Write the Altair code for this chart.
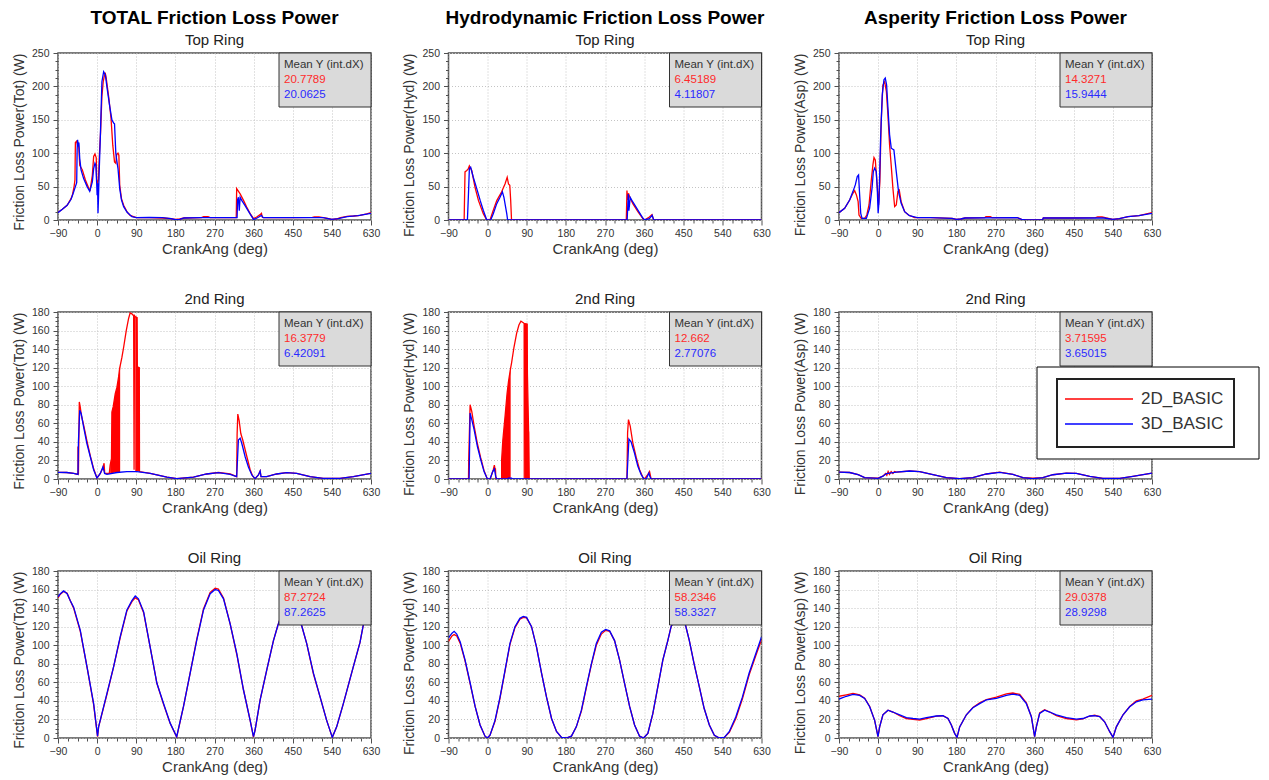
import altair as alt
import pandas as pd

SERIES = ["2D_BASIC", "3D_BASIC"]
COLORS = ["#ff0000", "#0000ff"]
COL_TITLES = ["TOTAL Friction Loss Power", "Hydrodynamic Friction Loss Power", "Asperity Friction Loss Power"]
ROW_TITLES = ["Top Ring", "2nd Ring", "Oil Ring"]
Y_TITLES = ["Friction Loss Power(Tot) (W)", "Friction Loss Power(Hyd) (W)", "Friction Loss Power(Asp) (W)"]
X_TITLE = "CrankAng (deg)"
X_TICKS = [-90 + 22.5 * k for k in range(33)]
STATS_HEADER = "Mean Y (int.dX)"

# ---- Top ring ----
TOT_TOP_2D = [(-90, 11.5), (-80, 16), (-69, 22), (-60, 32), (-57, 37), (-53, 50), (-51, 60), (-50, 116), (-47, 118),
              (-45, 112), (-43, 114), (-42, 107), (-40, 82), (-34, 75), (-27, 60), (-19, 47), (-16, 45), (-11, 67),
              (-8, 95), (-5, 99), (-2, 93), (-1, 60), (1, 55), (3, 60), (5, 95), (8, 132), (11, 185), (14, 207),
              (17, 217), (19, 219), (21, 212), (27, 182), (32, 152), (36, 112), (40, 87), (43, 85), (45, 98),
              (48, 100), (50, 97), (52, 52), (56, 32), (61, 22), (69, 12), (76, 7), (90, 3.5), (120, 3.5), (150, 3),
              (170, 2), (180, 1), (190, 1.5), (200, 3), (240, 3.5), (245, 5), (255, 5), (260, 3.5), (320, 3.5),
              (321, 47), (324, 44), (329, 39), (337, 29), (344, 19.5), (352, 9.5), (360, 2), (367, 4.5), (375, 8),
              (378, 10), (380, 4), (383, 3.5), (450, 3.5), (495, 4), (500, 4.5), (510, 4.5), (520, 3.5), (530, 2.5),
              (540, 1), (550, 1.5), (560, 3.5), (575, 5.5), (590, 6), (605, 7), (620, 9), (630, 11)]
TOT_TOP_3D = [(-90, 11), (-80, 16), (-69, 22), (-60, 31), (-55, 40), (-50, 50), (-47, 56), (-46, 105), (-45, 120),
              (-43, 110), (-42, 116), (-40, 92), (-37, 75), (-31, 62), (-23, 50), (-17, 43), (-11, 57), (-8, 77),
              (-5, 85), (-3, 82), (-1, 55), (0, 37), (1, 55), (2, 10), (3, 30), (4.5, 67), (7.5, 127), (11, 207),
              (15, 222), (19, 217), (23, 197), (29, 170), (34, 150), (38, 145), (40, 144), (43, 100), (45, 90),
              (48, 77), (52, 47), (56, 30), (61, 20), (69, 11.5), (80, 5), (90, 3.5), (120, 4), (150, 3.5), (170, 2),
              (180, 0.5), (190, 1), (200, 3), (240, 3.5), (322, 3.5), (323, 30), (325, 34), (327, 14), (329, 34),
              (333, 29), (340, 22), (350, 11), (360, 0.5), (368, 3), (375, 5.5), (378, 7), (382, 3.5), (450, 3.5),
              (520, 3.5), (540, 1), (555, 2), (575, 5), (600, 6.5), (630, 10)]
HYD_TOP_2D = [(-90, 0), (-54, 0), (-52, 72), (-48, 74), (-45, 76), (-42, 81), (-36.5, 74), (-29, 49), (-21, 29),
              (-10, 9.5), (-2, 0), (5.5, 0), (13, 14.5), (21, 29), (32, 42), (40, 54), (45, 64), (48, 54), (51, 52),
              (53, 30), (55, 0), (319, 0), (320.5, 44), (322, 30), (324, 40), (327, 34), (334, 24.5), (346, 12),
              (357, 2), (361, 0), (372, 4.5), (378, 8), (382, 0), (630, 0)]
HYD_TOP_3D = [(-90, 0), (-46.5, 0), (-44, 40), (-42, 77), (-39, 79), (-33, 64), (-25, 47), (-17, 29), (-10, 14.5),
              (-2, 0), (7, 0), (13, 9.5), (21, 24.5), (28.5, 34), (34, 42), (37.5, 34), (44, 9.5), (46, 0), (321, 0),
              (323.5, 39), (325, 14), (328, 34), (334, 27), (346, 14.5), (357, 3), (361, 0), (372, 2), (378.5, 7),
              (382, 0), (630, 0)]
ASP_TOP_2D = [(-90, 11), (-77, 17.5), (-65.5, 30), (-58, 40), (-54, 44), (-50, 37.5), (-46, 27.5), (-44, 7.5),
              (-39, 2.5), (-31, 2.5), (-26, 7.5), (-21, 22.5), (-16, 57.5), (-12, 82.5), (-9.5, 93.5), (-6.5, 90),
              (-4, 67.5), (-2, 50), (1, 22.5), (4, 57.5), (7, 147), (11, 202), (15, 207), (19, 192), (22.6, 157),
              (26.4, 112), (30, 82.5), (34, 47.5), (38, 20), (41.7, 22.5), (45.5, 42.5), (48.6, 45), (53, 27.5),
              (61, 12.5), (70, 7.5), (84, 3.5), (120, 3.5), (170, 2.5), (180, 1), (190, 1.5), (200, 3), (245, 3.5),
              (248, 5), (258, 5), (262, 3.5), (320, 3.5), (330, 1), (340, 0), (378, 0), (380, 3), (450, 3),
              (500, 3.5), (505, 4.5), (515, 4.5), (525, 3), (540, 1), (555, 2), (575, 5), (600, 6.5), (630, 11)]
ASP_TOP_3D = [(-90, 11), (-77, 17.5), (-65.5, 30), (-58, 42.5), (-52.5, 52.5), (-48, 65), (-45, 67.5), (-42.5, 37.5),
              (-40, 10), (-37, 2.5), (-27, 2.5), (-19.6, 17.5), (-14, 47.5), (-11, 72.5), (-8, 77.5), (-4.2, 72.5),
              (-2, 47.5), (0, 10), (2, 27.5), (5.7, 122.5), (9.5, 187.5), (13.4, 210), (16.4, 212.5), (19.5, 202.5),
              (22.6, 167.5), (26.4, 127.5), (30.2, 107.5), (36.3, 105), (41.7, 72.5), (47, 42.5), (53, 25),
              (61, 12.5), (72, 6.5), (90, 3.5), (120, 3.5), (170, 2.5), (180, 1), (190, 1.5), (200, 3), (320, 3.5),
              (330, 1), (340, 0), (378, 0), (380, 3), (450, 3), (520, 3), (540, 1), (555, 2), (575, 5), (600, 6.5),
              (630, 10)]

# ---- 2nd ring ----
TOT_2ND_2D = [(-90, 7.2), (-70, 7), (-54, 6), (-44, 5), (-44, 35), (-43, 5), (-41, 83), (-39, 78), (-36, 68),
              (-31, 58), (-23, 40), (-15.7, 25), (-8, 11), (-0.4, 1), (7.3, 6), (13.4, 12), (16, 17), (17.5, 6),
              (22.6, 6), (28, 6), (30, 15), (33, 22), (34, 72), (37, 78), (41.7, 92), (45.6, 99), (49.4, 110),
              (51.7, 119), (57, 131), (61, 142), (67, 160), (72.4, 173), (76, 179), (80, 178), (84, 176), (85, 10),
              (86, 176), (87.7, 175), (92, 174), (92.5, 121), (97, 120), (97.5, 8), (122, 6), (160.5, 2), (183, 0.4),
              (221.7, 2), (252, 5.4), (279, 7), (306, 5.5), (321, 2.5), (322, 48), (323.6, 70), (326.7, 63),
              (330.5, 49), (335, 42), (344.5, 24), (352, 10), (358, 3), (363.4, 0.4), (371, 4.3), (375, 8.6),
              (377, 2.5), (390, 2.5), (413, 5.4), (436, 6.8), (459, 6), (489.8, 2.5), (520, 0.7), (558.8, 0.7),
              (589.4, 2.5), (630, 6)]
TOT_2ND_3D = [(-90, 7.2), (-70, 7), (-54, 6), (-44, 5), (-43, 40), (-40, 74), (-36.4, 70), (-31, 56), (-23.4, 38),
              (-15.7, 24), (-8, 10), (-0.4, 1), (7.3, 6), (13.4, 13), (17.2, 6), (22.6, 5), (45.6, 7), (68.5, 8),
              (91.5, 8), (122, 6), (160.5, 2), (183, 0.4), (221.7, 2), (252, 5.4), (279, 6.8), (306, 5), (321, 2.5),
              (325, 42), (329, 44), (333, 38), (340.5, 24), (348, 13), (355.8, 4.3), (363.4, 0.4), (371, 4.3),
              (375, 8.6), (377, 2.5), (390, 2.5), (413, 5.4), (436, 6.8), (459, 6), (489.8, 2.5), (520, 0.7),
              (558.8, 0.7), (589.4, 2.5), (630, 6)]
TOT_2ND_BAND = [(30, 6, 15), (33, 6, 22), (34, 6, 72), (37, 6.5, 78), (41.7, 7, 92), (45.6, 7, 99), (49.4, 7.5, 110),
                (51.7, 7.5, 119), (53, 7.5, 122), None, (87.7, 8, 175), (92, 8, 174), (92.5, 8, 121), (97, 8, 120)]
HYD_2ND_2D = [(-90, 0), (-44, 0), (-43.5, 21), (-40.3, 80), (-36.5, 73), (-31, 57), (-23.5, 38), (-16, 23),
              (-8.2, 9), (-0.6, 0), (6, 0), (13, 10), (15.5, 15), (17, 11), (18, 11), (19, 0), (32.3, 0), (32.3, 21),
              (35, 42), (40, 67), (44.7, 92), (48, 105), (52, 117), (55, 125), (60.6, 142), (66.7, 157), (72, 166),
              (76.6, 170), (82, 168.5), (84, 167.5), (84.3, 0), (84.8, 167.5), (85.8, 167.5), (91, 167), (91.5, 114),
              (94, 57), (95.7, 0), (320.5, 0), (321, 20), (322, 50), (324, 64), (328, 57), (334, 39), (342, 23),
              (349.6, 10), (357, 2), (361, 0), (368.7, 5), (372.5, 8), (376, 0), (630, 0)]
HYD_2ND_3D = [(-90, 0), (-42.6, 0), (-40.3, 71), (-36.5, 64), (-31, 53), (-23.5, 35), (-16, 21), (-8.2, 8),
              (-0.6, 0), (5.5, 0), (11.7, 8), (15.5, 11), (18.5, 3), (20.8, 0), (46, 0), (48, 1), (55, 1), (57, 0),
              (320.5, 0), (325, 43), (330, 40), (337.8, 28), (345.4, 14), (353, 5), (359.4, 0), (364.8, 0),
              (370.9, 6.4), (373, 3), (376, 0), (630, 0)]
HYD_2ND_BAND = [(32.3, 0, 21), (35, 0, 42), (40, 0, 67), (44.7, 0, 92), (48, 0, 105), (52, 0, 117), (53, 0, 120),
                None, (85.8, 0, 167.5), (91, 0, 167), (91.5, 0, 114), (94, 0, 57), (95.7, 0, 50)]
ASP_2ND_2D = [(-90, 7.5), (-65.5, 7), (-46, 4.6), (-31, 1.4), (0, 1), (11, 3), (17, 6), (20, 4), (23, 8), (26, 5),
              (30, 8), (34, 6), (38, 8), (42, 7.5), (72.6, 8.6), (95.6, 7.9), (126, 4.6), (157, 1.4), (187.6, 0.4),
              (218, 1.4), (249, 5.4), (279.6, 7.5), (310, 5), (333, 1.4), (356, 1), (379, 1.4), (402, 4.6),
              (433, 6.4), (456, 6), (486.7, 2.9), (517, 0.7), (555.7, 0.7), (586, 2.9), (630, 6.4)]
ASP_2ND_3D = [(-90, 7.5), (-65.5, 7), (-46, 4.6), (-31, 1.4), (0, 0.7), (11, 3), (19, 5.7), (42, 7.5), (72.6, 8.6),
              (95.6, 7.9), (126, 4.6), (157, 1.4), (187.6, 0.4), (218, 1.4), (249, 5.4), (279.6, 7.2), (310, 5),
              (333, 1.4), (356, 0.4), (379, 1.4), (402, 4.6), (433, 6.4), (456, 6), (486.7, 2.9), (517, 0.7),
              (555.7, 0.7), (586, 2.9), (630, 6.4)]

# ---- Oil ring ----
TOT_OIL_2D = [(-90, 151), (-84.6, 155), (-77, 158), (-69, 156), (-61.7, 148), (-54, 140), (-38.7, 115), (-23.4, 77),
              (-8, 36), (1, 1.5), (3.4, 12), (22.6, 47), (38, 77), (53, 108), (68.5, 137), (80, 147), (87.7, 151),
              (95, 149), (107, 135), (122, 98), (137.5, 59), (153, 36), (168, 16), (183, 1), (198.7, 34), (214, 70),
              (229, 106), (244.7, 139), (260, 157), (271.5, 161.5), (279, 160.5), (290.7, 151), (306, 123),
              (321.3, 90), (336.6, 52), (352, 19), (359.6, 1), (363.4, 8.6), (375, 41), (390, 73), (405.6, 105),
              (415.5, 121), (428, 138), (440, 147), (450, 145), (460, 135), (470.6, 121), (482, 102), (497.6, 69),
              (513, 44), (528, 19), (541, 0.7), (551, 12), (566.4, 37), (589.4, 77), (604.7, 103), (612, 121),
              (630, 148)]
TOT_OIL_3D = [(-90, 152), (-84.6, 155.6), (-77, 158.5), (-69, 155.6), (-61.7, 148), (-54, 141), (-38.7, 116),
              (-23.4, 77), (-8, 37), (1, 2), (3.4, 12), (22.6, 48), (38, 77), (53, 109), (68.5, 138), (80, 148),
              (87.7, 153), (95, 150), (107, 136), (122, 98), (137.5, 59), (153, 37), (168, 16), (183, 1.4),
              (198.7, 34), (214, 70), (229, 105), (244.7, 138), (260, 155.6), (271.5, 160), (279, 159),
              (290.7, 150), (306, 123), (321.3, 91), (336.6, 52), (352, 19), (359.6, 1.4), (363.4, 8.6), (375, 41),
              (390, 73), (405.6, 105), (415.5, 121), (428, 138), (440, 147), (450, 145), (460, 135), (470.6, 121),
              (482, 102), (497.6, 70), (513, 44), (528, 19), (541, 0.7), (551, 12), (566.4, 37), (589.4, 77),
              (604.7, 103), (612, 121), (630, 148)]
HYD_OIL_2D = [(-90, 104), (-82, 110), (-77, 111.5), (-71, 110), (-63, 102), (-51.8, 83), (-40, 58), (-28.8, 34),
              (-17.4, 14), (-6, 2), (-0.6, 0), (5.5, 3), (17, 18), (28.5, 43), (40, 72), (51.4, 101), (62.9, 119),
              (74.3, 128), (82, 130), (89.6, 129.5), (101, 120), (112.5, 98), (124, 70), (135.5, 44), (147, 21),
              (158.4, 7), (170, 0.7), (181, 0), (192.8, 2), (204, 12), (215.7, 29), (227, 54), (238.7, 79),
              (250, 100), (261.6, 112), (271.5, 116), (280.7, 115), (292, 105), (303.6, 84), (315, 59), (326.6, 34),
              (338, 14), (349.5, 2), (358.7, 0), (368.6, 5), (380, 26), (391.5, 55), (403, 84), (414.5, 105),
              (422, 120), (435, 132), (445, 130), (455, 122), (464, 105), (475, 80), (487, 55), (498, 32), (510, 14),
              (521.5, 3), (533, 0), (544.5, 0.7), (556, 6), (571, 21), (586, 42), (601.6, 68), (617, 89), (630, 106)]
HYD_OIL_3D = [(-90, 108), (-82, 113), (-77, 115), (-71, 112), (-63, 103.6), (-51.8, 84), (-40, 59), (-28.8, 34),
              (-17.4, 14), (-6, 2), (-0.6, 0), (5.5, 3), (17, 19), (28.5, 44), (40, 73), (51.4, 102), (62.9, 120),
              (74.3, 129), (82, 131), (89.6, 130), (101, 120), (112.5, 98), (124, 70), (135.5, 44), (147, 21),
              (158.4, 7), (170, 0.7), (181, 0), (192.8, 2), (204, 12), (215.7, 30), (227, 55), (238.7, 80),
              (250, 102), (261.6, 114), (271.5, 117), (280.7, 115.5), (292, 105), (303.6, 84), (315, 59),
              (326.6, 34), (338, 14), (349.5, 2), (358.7, 0), (368.6, 5), (380, 26.5), (391.5, 55), (403, 84),
              (414.5, 105), (422, 120), (435, 132), (445, 130), (455, 122), (464, 105), (475, 80), (487, 55),
              (498, 32), (510, 14), (521.5, 3), (533, 0), (544.5, 0.7), (556, 7), (571, 23), (586, 44),
              (601.6, 70), (617, 91), (630, 109)]
ASP_OIL_2D = [(-90, 45), (-73, 46.5), (-57.8, 48), (-42.5, 46.5), (-31, 43), (-19.4, 34), (-8, 19), (-0.3, 1.4),
              (3.5, 12), (11, 25), (22.7, 30), (34, 28), (49.6, 24), (65, 21), (80.3, 20), (95.6, 19.4), (111, 21),
              (134, 23.5), (149, 24), (160.7, 21), (168.4, 14), (176, 5), (181.5, 0.7), (187.6, 12), (203, 25),
              (218, 33), (233.6, 38), (249, 41.5), (272, 44), (295, 47.5), (310, 48.5), (325.6, 47), (341, 38),
              (352.5, 23), (360, 1.4), (364, 12), (371.6, 27), (383, 30.5), (394.7, 28), (410, 24), (433, 21),
              (456, 19.5), (471, 20.5), (486.7, 23.7), (498, 24.5), (509.7, 23), (521, 17.5), (532.7, 6.8),
              (540.4, 0.7), (548, 12), (563.4, 25), (578.7, 34), (594, 40), (609, 42), (630, 46)]
ASP_OIL_3D = [(-90, 42), (-73, 45), (-57.8, 47), (-42.5, 46), (-31, 42.7), (-19.4, 33.7), (-8, 19), (-0.3, 1.4),
              (3.5, 12), (11, 25), (22.7, 30), (34, 28), (49.6, 25), (65, 22), (80.3, 21), (95.6, 20.4), (111, 22),
              (134, 23.7), (149, 24), (160.7, 21), (168.4, 14), (176, 5), (181.5, 0.7), (187.6, 12), (203, 25),
              (218, 32.6), (233.6, 37), (249, 41), (272, 42.7), (295, 46), (310, 47.3), (325.6, 46), (341, 37),
              (352.5, 23), (360, 1.4), (364, 12), (371.6, 26.5), (383, 30), (394.7, 28), (410, 25), (433, 22),
              (456, 20.4), (471, 21), (486.7, 23.7), (498, 24), (509.7, 23), (521, 17.5), (532.7, 6.8),
              (540.4, 0.7), (548, 12), (563.4, 25), (578.7, 33.7), (594, 39), (609, 41), (630, 42)]

# Mean Y (int.dX) values [2D, 3D]
STATS = {
    ("TOT", "Top"): ["20.7789", "20.0625"], ("HYD", "Top"): ["6.45189", "4.11807"], ("ASP", "Top"): ["14.3271", "15.9444"],
    ("TOT", "2nd"): ["16.3779", "6.42091"], ("HYD", "2nd"): ["12.662", "2.77076"], ("ASP", "2nd"): ["3.71595", "3.65015"],
    ("TOT", "Oil"): ["87.2724", "87.2625"], ("HYD", "Oil"): ["58.2346", "58.3327"], ("ASP", "Oil"): ["29.0378", "28.9298"],
}

W, H = 313, 167
BOX_W, BOX_H = 92, 54
FONT = "Liberation Sans"


def line_df(red, blue):
    rows = []
    for name, pts in zip(SERIES, (red, blue)):
        for i, (x, y) in enumerate(pts):
            rows.append({"x": x, "y": y, "series": name, "i": i})
    return pd.DataFrame(rows)


def band_df(band):
    rows, seg = [], 0
    for item in band:
        if item is None:
            seg += 1
            continue
        rows.append({"x": item[0], "lo": item[1], "hi": item[2], "seg": seg})
    return pd.DataFrame(rows)


def one(text):
    return pd.DataFrame({"t": [text]})


def panel(red, blue, band, ymax, ymajor, yminor, ytitle, title, stats, legend=False):
    xs = alt.Scale(domain=[-90, 630], nice=False, zero=False)
    ys = alt.Scale(domain=[0, ymax], nice=False, zero=False)
    xtest = "datum.value % 90 == 0"
    ytest = f"datum.value % {ymajor} == 0"
    x_axis = alt.Axis(values=X_TICKS, orient="bottom", title=X_TITLE, labelExpr=f"{xtest} ? datum.label : ''",
                      labelOverlap=False, labelFlush=False, labelPadding=3,
                      tickSize={"condition": {"test": xtest, "value": 5}, "value": 3},
                      gridOpacity={"condition": {"test": xtest, "value": 1}, "value": 0},
                      titleFontSize=15, titlePadding=3)
    y_vals = [k * yminor for k in range(int(round(ymax / yminor)) + 1)]
    y_axis = alt.Axis(values=y_vals, orient="left", title=ytitle, labelExpr=f"{ytest} ? datum.label : ''",
                      labelOverlap=False, labelFlush=False, labelPadding=4,
                      tickSize={"condition": {"test": ytest, "value": 5}, "value": 3},
                      gridOpacity={"condition": {"test": ytest, "value": 1}, "value": 0},
                      titleFontSize=14, titlePadding=5, titleAnchor="end")
    layers = []
    if band is not None:
        layers.append(alt.Chart(band_df(band)).mark_area(color=COLORS[0], opacity=1, clip=True).encode(
            x=alt.X("x:Q", scale=xs, axis=x_axis),
            y=alt.Y("lo:Q", scale=ys, axis=y_axis),
            y2="hi:Q",
            detail="seg:N",
        ))
    layers.append(alt.Chart(line_df(red, blue)).mark_line(strokeWidth=1.3, clip=True).encode(
        x=alt.X("x:Q", scale=xs, axis=x_axis),
        y=alt.Y("y:Q", scale=ys, axis=y_axis),
        color=alt.Color("series:N", scale=alt.Scale(domain=SERIES, range=COLORS), legend=None),
        order=alt.Order("i:Q"),
    ))
    layers.append(alt.Chart(one("box")).mark_rect(fill="#dadada", stroke="#333333", strokeWidth=1).encode(
        x=alt.value(W - BOX_W), x2=alt.value(W), y=alt.value(0), y2=alt.value(BOX_H)))
    for text, color, yy in [(STATS_HEADER, "#333333", 12), (stats[0], "#ff2a2a", 27), (stats[1], "#2a2aff", 42)]:
        layers.append(alt.Chart(one(text)).mark_text(align="left", baseline="middle", font=FONT, fontSize=11.5,
                                                     color=color).encode(
            x=alt.value(W - BOX_W + 5), y=alt.value(yy), text="t:N"))
    if legend:
        layers.append(alt.Chart(one("outer")).mark_rect(fill="white", stroke="#000000", strokeWidth=1).encode(
            x=alt.value(198), x2=alt.value(420), y=alt.value(55), y2=alt.value(147)))
        layers.append(alt.Chart(one("inner")).mark_rect(fill="white", stroke="#222222", strokeWidth=2).encode(
            x=alt.value(218), x2=alt.value(395), y=alt.value(67), y2=alt.value(135)))
        for name, color, yy in [(SERIES[0], COLORS[0], 87), (SERIES[1], COLORS[1], 112)]:
            layers.append(alt.Chart(one(name)).mark_rule(color=color, strokeWidth=1.5).encode(
                x=alt.value(226), x2=alt.value(294), y=alt.value(yy)))
            layers.append(alt.Chart(one(name)).mark_text(align="left", baseline="middle", font=FONT, fontSize=17,
                                                         color="#333333").encode(
                x=alt.value(302), y=alt.value(yy), text="t:N"))
    return alt.layer(*layers).properties(width=W, height=H, title=title)


def top_title(main, sub):
    return alt.TitleParams(text=main, subtitle=sub, font=FONT, fontSize=19, fontWeight="bold", color="#000000",
                           subtitleFont=FONT, subtitleFontSize=15, subtitleColor="#222222", anchor="middle",
                           offset=0, subtitlePadding=5)


def sub_title(sub):
    return alt.TitleParams(text=sub, font=FONT, fontSize=15, fontWeight="normal", color="#222222",
                           anchor="middle", offset=0)


panels = [
    panel(TOT_TOP_2D, TOT_TOP_3D, None, 250, 50, 12.5, Y_TITLES[0], top_title(COL_TITLES[0], ROW_TITLES[0]), STATS[("TOT", "Top")]),
    panel(HYD_TOP_2D, HYD_TOP_3D, None, 250, 50, 12.5, Y_TITLES[1], top_title(COL_TITLES[1], ROW_TITLES[0]), STATS[("HYD", "Top")]),
    panel(ASP_TOP_2D, ASP_TOP_3D, None, 250, 50, 12.5, Y_TITLES[2], top_title(COL_TITLES[2], ROW_TITLES[0]), STATS[("ASP", "Top")]),
    panel(TOT_2ND_2D, TOT_2ND_3D, TOT_2ND_BAND, 180, 20, 5, Y_TITLES[0], sub_title(ROW_TITLES[1]), STATS[("TOT", "2nd")]),
    panel(HYD_2ND_2D, HYD_2ND_3D, HYD_2ND_BAND, 180, 20, 5, Y_TITLES[1], sub_title(ROW_TITLES[1]), STATS[("HYD", "2nd")]),
    panel(ASP_2ND_2D, ASP_2ND_3D, None, 180, 20, 5, Y_TITLES[2], sub_title(ROW_TITLES[1]), STATS[("ASP", "2nd")], legend=True),
    panel(TOT_OIL_2D, TOT_OIL_3D, None, 180, 20, 5, Y_TITLES[0], sub_title(ROW_TITLES[2]), STATS[("TOT", "Oil")]),
    panel(HYD_OIL_2D, HYD_OIL_3D, None, 180, 20, 5, Y_TITLES[1], sub_title(ROW_TITLES[2]), STATS[("HYD", "Oil")]),
    panel(ASP_OIL_2D, ASP_OIL_3D, None, 180, 20, 5, Y_TITLES[2], sub_title(ROW_TITLES[2]), STATS[("ASP", "Oil")]),
]

chart = alt.concat(*panels, columns=3, spacing={"row": 92, "column": 77.5}, bounds="flush").properties(
    padding={"left": 3, "top": 0, "right": 0, "bottom": 0}, background="white"
).configure_view(stroke="#505050", strokeWidth=1.5).configure_axis(
    domain=False, labelFont=FONT, labelFontSize=10.5, labelColor="#333333", tickColor="#505050",
    titleFont=FONT, titleFontWeight="normal", titleColor="#333333", gridColor="#c4c4c4", gridDash=[1, 2],
    gridWidth=1,
)

chart.save("out.html", embed_options={"renderer": "svg", "actions": False})
